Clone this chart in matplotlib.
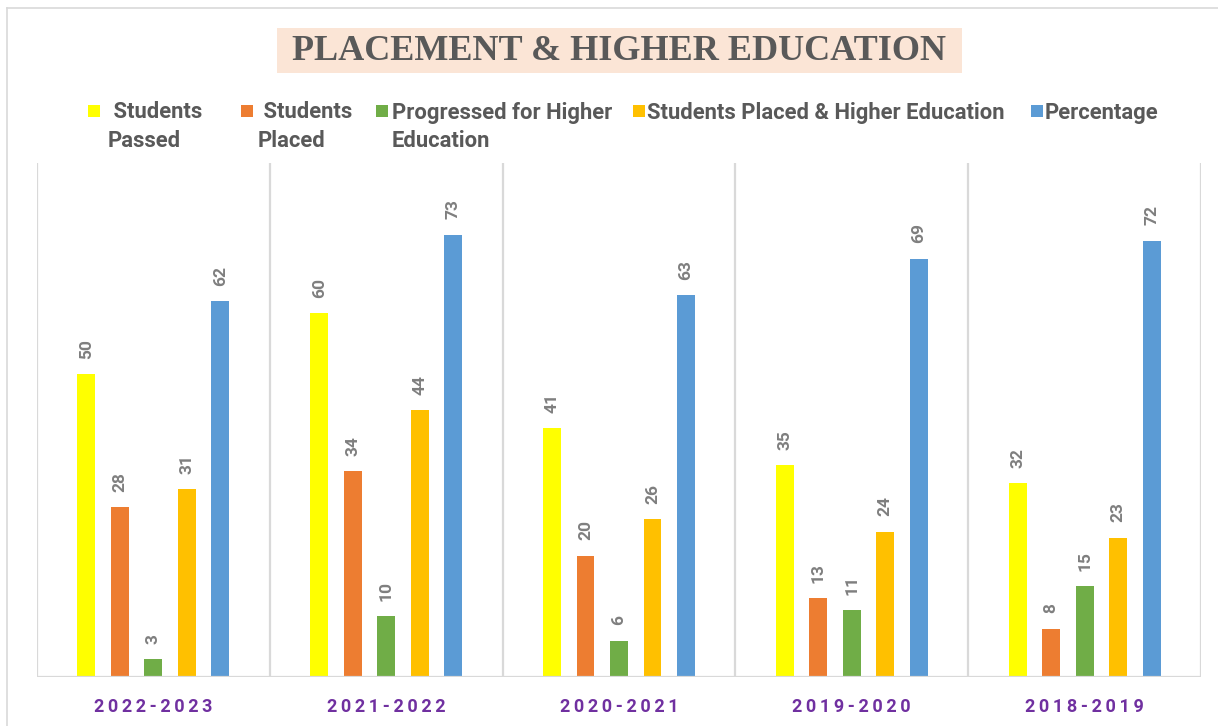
import matplotlib
matplotlib.use("Agg")
import matplotlib.pyplot as plt
from matplotlib.patches import Rectangle
from matplotlib.lines import Line2D
import numpy as np

years = ["2022-2023", "2021-2022", "2020-2021", "2019-2020", "2018-2019"]
students_passed = [50, 60, 41, 35, 32]
students_placed = [28, 34, 20, 13, 8]
higher_education = [3, 10, 6, 11, 15]
placed_and_higher = [31, 44, 26, 24, 23]
percentage = [62, 73, 63, 69, 72]

series_names = [" Students\nPassed", " Students\nPlaced", "Progressed for Higher\nEducation",
                "Students Placed & Higher Education", "Percentage"]
series_values = [students_passed, students_placed, higher_education, placed_and_higher, percentage]
colors = ["#ffff00", "#ed7d31", "#70ad47", "#ffc000", "#5b9bd5"]

SANS = ["Roboto", "DejaVu Sans"]

W, H = 1218, 726
fig = plt.figure(figsize=(W / 100, H / 100), dpi=100)
fig.patch.set_facecolor("white")

def fx(px):
    return px / W

def fy(py):
    return 1 - py / H

# outer border
fig.add_artist(Line2D([fx(7), fx(7)], [fy(8), 0], color="#d9d9d9", lw=1.2, transform=fig.transFigure))
fig.add_artist(Line2D([fx(7), 1], [fy(8), fy(8)], color="#d9d9d9", lw=1.2, transform=fig.transFigure))

ax = fig.add_axes([fx(37), fy(677), fx(1201) - fx(37), fy(163) - fy(677)])
x = np.arange(len(years))
spacing = 0.144
bw = 0.077
for i, (vals, c) in enumerate(zip(series_values, colors)):
    pos = x + (i - 2) * spacing
    ax.bar(pos, vals, width=bw, color=c, zorder=2)
    for p, v in zip(pos, vals):
        ax.annotate(str(v), (p, v), xytext=(0, 11), textcoords="offset points",
                    rotation=90, ha="center", va="bottom", color="#7f7f7f",
                    fontsize=12.5, fontweight="bold", family=SANS)

ax.set_xlim(-0.5, len(years) - 0.5)
ax.set_ylim(0, 84.8)
for b in np.arange(-0.5, len(years), 1.0):
    ax.axvline(b, color="#d9d9d9", lw=1.6, zorder=1)
for s in ax.spines.values():
    s.set_visible(False)
ax.axhline(0, color="#d9d9d9", lw=1.6, zorder=3)
ax.set_yticks([])
ax.set_xticks(x)
spaced_years = ["\u2009".join(y) for y in years]
ax.set_xticklabels(spaced_years, color="#7030a0", fontsize=13, fontweight="bold", family=SANS)
ax.tick_params(axis="x", length=0, pad=15)

# title
fig.add_artist(Rectangle((fx(277), fy(73)), fx(962) - fx(277), fy(28) - fy(73),
                         facecolor="#fbe5d6", edgecolor="none", transform=fig.transFigure))
fig.text(fx(619.5), fy(51), "PLACEMENT & HIGHER EDUCATION", ha="center", va="center",
         fontsize=26, fontweight="bold", color="#595959", family="Liberation Serif")

# legend
marker_x = [88, 241, 376, 633, 1031]
text_x = [108, 258, 392, 647, 1045]
for mx, tx, name, c in zip(marker_x, text_x, series_names, colors):
    fig.add_artist(Rectangle((fx(mx), fy(117)), fx(12), 12 / H, facecolor=c,
                             edgecolor="none", transform=fig.transFigure))
    fig.text(fx(tx), fy(101.5), name, ha="left", va="top", fontsize=15.8, fontweight="bold",
             color="#595959", family=SANS, linespacing=1.36)

fig.savefig("out.png", dpi=100, facecolor="white")
